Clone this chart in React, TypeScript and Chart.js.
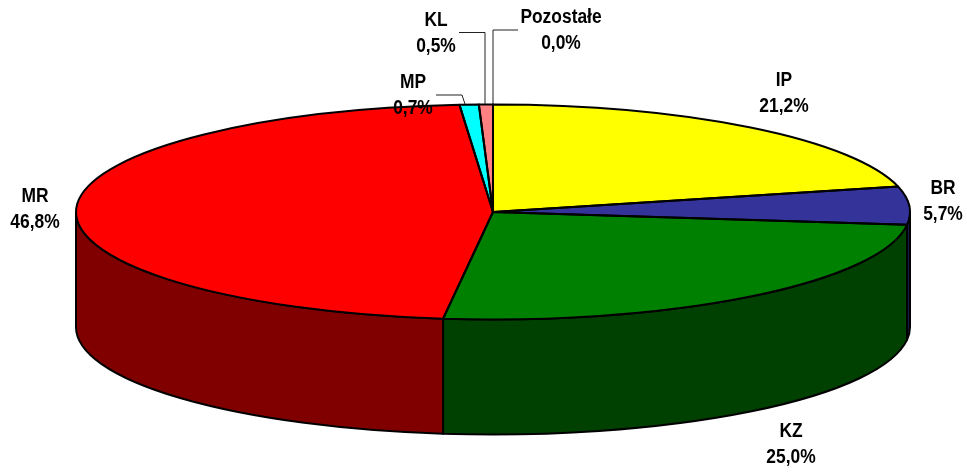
import React, { useEffect, useRef } from "react";
import { Chart, registerables } from "chart.js";

Chart.register(...registerables);

const categories = ["IP", "BR", "KZ", "MR", "MP", "KL", "Pozostałe"];
const shares = [21.2, 5.7, 25.0, 46.8, 0.74, 0.54, 0.0];
const shareLabels = ["21,2%", "5,7%", "25,0%", "46,8%", "0,7%", "0,5%", "0,0%"];
const topColors = ["#FFFF00", "#333399", "#008000", "#FF0000", "#00FFFF", "#FF8080", "#FFFFFF"];
const wallColors = ["#808000", "#1A1A4D", "#004000", "#800000", "#008080", "#804040", "#808080"];
const labelBoxes = [
  [784, 93], [943, 201], [791, 444], [35, 209], [413, 95], [436, 33], [561, 30],
];
const leaderLines = [
  [[436, 95], [462, 95], [465, 104]],
  [[459, 32.5], [485, 32.5], [485, 104]],
  [[518, 30], [493, 30], [493, 104]],
];

const CX = 493, CY = 212, RX = 417, RY = 107.5, DEPTH = 115;

const pie3d = {
  id: "pie3d",
  beforeDatasetsDraw(chart: any) {
    const { ctx } = chart;
    const arcs = chart.getDatasetMeta(0).data;
    ctx.save();
    for (let i = 0; i < arcs.length; i++) {
      const a0 = Math.max(arcs[i].startAngle, 0);
      const a1 = Math.min(arcs[i].endAngle, Math.PI);
      if (a1 <= a0) continue;
      ctx.beginPath();
      ctx.ellipse(CX, CY, RX, RY, 0, a0, a1);
      ctx.lineTo(CX + RX * Math.cos(a1), CY + RY * Math.sin(a1) + DEPTH);
      ctx.ellipse(CX, CY + DEPTH, RX, RY, 0, a1, a0, true);
      ctx.closePath();
      ctx.fillStyle = wallColors[i];
      ctx.fill();
      ctx.strokeStyle = "#000";
      ctx.lineWidth = 2;
      ctx.lineJoin = "round";
      ctx.stroke();
    }
    ctx.restore();
    const a = arcs[0];
    ctx.save();
    ctx.translate(CX, CY);
    ctx.scale(RX / a.outerRadius, RY / a.outerRadius);
    ctx.translate(-a.x, -a.y);
  },
  afterDatasetsDraw(chart: any) {
    const { ctx } = chart;
    ctx.restore();
    const arcs = chart.getDatasetMeta(0).data;
    ctx.save();
    ctx.strokeStyle = "#000";
    ctx.lineWidth = 2;
    ctx.lineJoin = "round";
    arcs.forEach((arc: any, i: number) => {
      if (!shares[i]) return;
      ctx.beginPath();
      ctx.moveTo(CX, CY);
      ctx.ellipse(CX, CY, RX, RY, 0, arc.startAngle, arc.endAngle);
      ctx.closePath();
      ctx.stroke();
    });
    ctx.lineWidth = 1;
    ctx.strokeStyle = "#222";
    for (const line of leaderLines) {
      ctx.beginPath();
      line.forEach(([x, y], j) => (j ? ctx.lineTo(x, y) : ctx.moveTo(x, y)));
      ctx.stroke();
    }
    ctx.fillStyle = "#000";
    ctx.font = "bold 20px 'Liberation Sans', Arial, sans-serif";
    ctx.textAlign = "center";
    ctx.textBaseline = "middle";
    categories.forEach((name, i) => {
      const [x, y] = labelBoxes[i];
      ctx.save();
      ctx.translate(x, y);
      ctx.scale(0.87, 1);
      ctx.fillText(name, 0, -13);
      ctx.fillText(shareLabels[i], 0, 13);
      ctx.restore();
    });
    ctx.restore();
  },
};

export default function App() {
  const ref = useRef<HTMLCanvasElement>(null);
  useEffect(() => {
    document.body.style.margin = "0";
    const chart = new Chart(ref.current!, {
      type: "pie",
      data: {
        labels: categories,
        datasets: [{ data: shares, backgroundColor: topColors, borderWidth: 0 }],
      },
      options: {
        animation: false,
        responsive: false,
        layout: { padding: 0 },
        plugins: { legend: { display: false }, tooltip: { enabled: false } },
      },
      plugins: [pie3d],
    });
    return () => chart.destroy();
  }, []);
  return <canvas ref={ref} width={967} height={472} style={{ display: "block" }} />;
}
